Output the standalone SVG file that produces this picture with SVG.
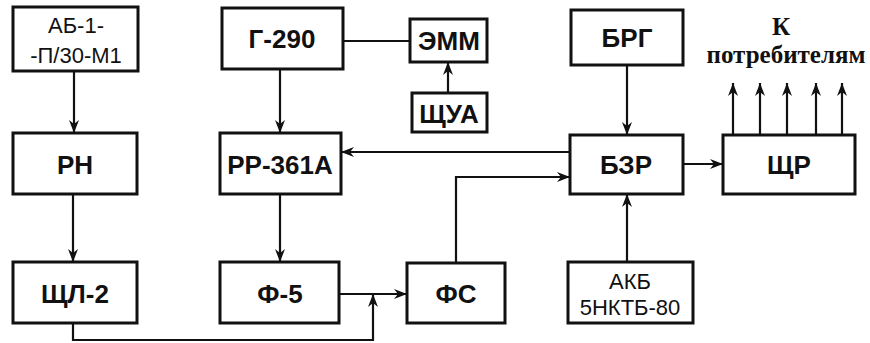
<svg xmlns="http://www.w3.org/2000/svg" width="870" height="343" viewBox="0 0 870 343">
<defs>
<style>
.box{fill:#fff;stroke:#111;stroke-width:3}
.t{font-family:"Liberation Sans",Arial,sans-serif;font-weight:bold;font-size:26px;fill:#111;text-anchor:middle}
.n{font-family:"Liberation Sans",Arial,sans-serif;font-size:22px;fill:#111;text-anchor:middle}
.s{font-family:"Liberation Serif","Times New Roman",serif;font-weight:bold;font-size:25px;fill:#111;text-anchor:middle}
.c{fill:none;stroke:#111;stroke-width:2.2}
</style>
<marker id="a" viewBox="0 0 13 10" refX="13" refY="5" markerWidth="13" markerHeight="10" markerUnits="userSpaceOnUse" orient="auto">
<path d="M0,0 L13,5 L0,10 L4,5 z" fill="#111"/>
</marker>
</defs>
<rect width="870" height="343" fill="#fff"/>
<g id="connectors">
<path class="c" d="M74,71 V133" marker-end="url(#a)"/>
<path class="c" d="M73,194 V262" marker-end="url(#a)"/>
<path class="c" d="M280,69 V133" marker-end="url(#a)"/>
<path class="c" d="M280,194 V262" marker-end="url(#a)"/>
<path class="c" d="M343,41 H410"/>
<path class="c" d="M448,93 V62" marker-end="url(#a)"/>
<path class="c" d="M627,65 V135" marker-end="url(#a)"/>
<path class="c" d="M570,152 H341" marker-end="url(#a)"/>
<path class="c" d="M456,263 V177 H570" marker-end="url(#a)"/>
<path class="c" d="M627,262 V194" marker-end="url(#a)"/>
<path class="c" d="M683,164 H723" marker-end="url(#a)"/>
<path class="c" d="M339,294 H407" marker-end="url(#a)"/>
<path class="c" d="M73,323 V340 H373 V294" marker-end="url(#a)"/>
<path class="c" d="M733,135 V83" marker-end="url(#a)"/>
<path class="c" d="M760,135 V83" marker-end="url(#a)"/>
<path class="c" d="M787,135 V83" marker-end="url(#a)"/>
<path class="c" d="M816,135 V83" marker-end="url(#a)"/>
<path class="c" d="M842,135 V83" marker-end="url(#a)"/>
</g>
<g id="ab"><rect class="box" x="13" y="7" width="125" height="64"/><text class="n" x="76" y="33">АБ-1-</text><text class="n" x="76" y="63">-П/30-М1</text></g>
<g id="rn"><rect class="box" x="13" y="133" width="124" height="61"/><text class="t" x="75" y="174">РН</text></g>
<g id="shl2"><rect class="box" x="13" y="262" width="124" height="61"/><text class="t" x="75" y="303">ЩЛ-2</text></g>
<g id="g290"><rect class="box" x="222" y="8" width="121" height="61"/><text class="t" x="282" y="48">Г-290</text></g>
<g id="emm"><rect class="box" x="410" y="19" width="77" height="43"/><text class="t" x="449" y="50">ЭММ</text></g>
<g id="shua"><rect class="box" x="412" y="93" width="75" height="39"/><text class="t" x="449" y="123">ЩУА</text></g>
<g id="rr361a"><rect class="box" x="220" y="133" width="121" height="61"/><text class="t" x="280" y="174">РР-361А</text></g>
<g id="f5"><rect class="box" x="220" y="262" width="119" height="61"/><text class="t" x="280" y="303">Ф-5</text></g>
<g id="fs"><rect class="box" x="407" y="263" width="98" height="60"/><text class="t" x="456" y="303">ФС</text></g>
<g id="brg"><rect class="box" x="571" y="10" width="112" height="55"/><text class="t" x="627" y="47">БРГ</text></g>
<g id="bzr"><rect class="box" x="570" y="135" width="113" height="59"/><text class="t" x="626" y="174">БЗР</text></g>
<g id="shr"><rect class="box" x="723" y="135" width="132" height="59"/><text class="t" x="789" y="174">ЩР</text></g>
<g id="akb"><rect class="box" x="568" y="262" width="125" height="61"/><text class="n" x="630" y="289">АКБ</text><text class="n" x="630" y="315">5НКТБ-80</text></g>
<g id="consumers"><text class="s" x="781" y="35">К</text><text class="s" x="786" y="63">потребителям</text></g>
</svg>
